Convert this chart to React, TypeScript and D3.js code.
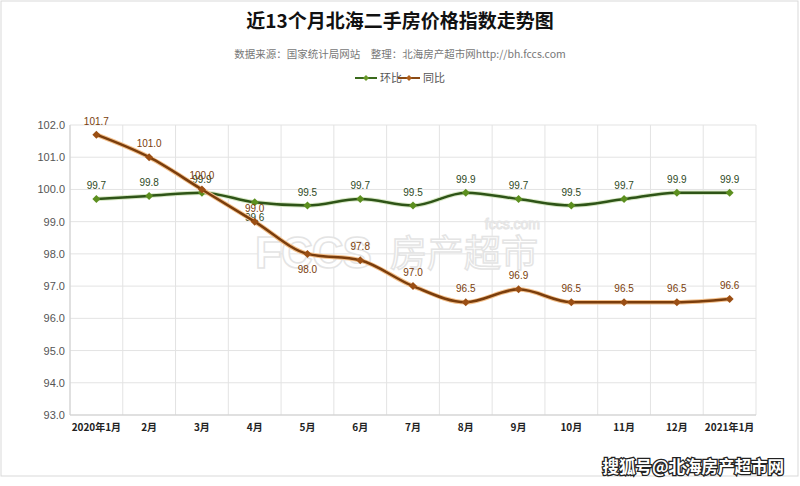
import React from 'react';
import * as d3 from 'd3';

const months = ['2020年1月', '2月', '3月', '4月', '5月', '6月', '7月', '8月', '9月', '10月', '11月', '12月', '2021年1月'];
const huanbi = [99.7, 99.8, 99.9, 99.6, 99.5, 99.7, 99.5, 99.9, 99.7, 99.5, 99.7, 99.9, 99.9];
const tongbi = [101.7, 101.0, 100.0, 99.0, 98.0, 97.8, 97.0, 96.5, 96.9, 96.5, 96.5, 96.5, 96.6];
const yTicks = [93, 94, 95, 96, 97, 98, 99, 100, 101, 102];
// label placement: true = below point
const huanbiBelow = [false, false, false, true, false, false, false, false, false, false, false, false, false];
const tongbiBelow = [false, false, false, false, true, false, false, false, false, false, false, false, false];

const W = 800, H = 486;
const L = 70, R = 756, T = 125, B = 415;
const FONT = '"Liberation Sans", Arial, "Noto Sans CJK SC", sans-serif';
const CJK = '"Noto Sans CJK SC", "Liberation Sans", sans-serif';

export default function App() {
  const x = d3.scaleBand<string>().domain(months).range([L, R]).paddingInner(0).paddingOuter(0);
  const y = d3.scaleLinear().domain([93, 102]).range([B, T]);
  const cx = (i: number) => (x(months[i]) as number) + x.bandwidth() / 2;
  const line = d3.line<number>().x((_, i) => cx(i)).y((d) => y(d)).curve(d3.curveMonotoneX);

  const series = [
    { name: '环比', data: huanbi, below: huanbiBelow, color: '#2e5417', marker: '#5c8f1f', glow: '#d8e8c6', label: '#2e4a1e' },
    { name: '同比', data: tongbi, below: tongbiBelow, color: '#7a3d0c', marker: '#9b4f14', glow: '#f3c08c', label: '#7a3d0c' },
  ];
  const diamond = (px: number, py: number, r: number) => `M${px},${py - r}L${px + r},${py}L${px},${py + r}L${px - r},${py}Z`;

  return (
    <svg width={W} height={H} style={{ position: 'absolute', left: 0, top: 0, background: '#fff' }}>
      <rect x={1} y={1} width={797} height={475} fill="#fff" stroke="#d9d9d9" />
      <text x={400} y={28} textAnchor="middle" fontFamily={CJK} fontWeight="bold" fontSize={19} fill="#111">近13个月北海二手房价格指数走势图</text>
      <text x={400} y={58} textAnchor="middle" fontFamily={CJK} fontSize={10.5} fill="#777">数据来源：国家统计局网站　整理：北海房产超市网http://bh.fccs.com</text>
      {/* legend */}
      <g>
        <line x1={355} x2={377} y1={78} y2={78} stroke="#3a6a1c" strokeWidth={2} />
        <path d={diamond(366, 78, 3)} fill="#6a9a2a" />
        <text x={380} y={82} fontFamily={CJK} fontSize={11} fill="#555">环比</text>
        <line x1={398} x2={420} y1={78} y2={78} stroke="#8a4a14" strokeWidth={2} />
        <path d={diamond(409, 78, 3)} fill="#b0601c" />
        <text x={423} y={82} fontFamily={CJK} fontSize={11} fill="#555">同比</text>
      </g>
      {/* grid */}
      {yTicks.map((t) => (
        <g key={t}>
          <line x1={L} x2={R} y1={y(t)} y2={y(t)} stroke="#e3e3e3" />
          <text x={L - 5} y={y(t) + 4} textAnchor="end" fontFamily={FONT} fontSize={11} fill="#555">{t.toFixed(1)}</text>
        </g>
      ))}
      {months.map((m) => (
        <line key={m} x1={(x(m) as number)} x2={(x(m) as number)} y1={T} y2={B} stroke="#e3e3e3" />
      ))}
      <line x1={R} x2={R} y1={T} y2={B} stroke="#e3e3e3" />
      <line x1={L} x2={R} y1={B} y2={B} stroke="#cfcfcf" />
      <line x1={L} x2={L} y1={T} y2={B} stroke="#cfcfcf" />
      {months.map((m, i) => (
        <text key={m} x={cx(i)} y={431} textAnchor="middle" fontFamily={CJK} fontWeight="bold" fontSize={10} fill="#222">{m}</text>
      ))}
      {/* watermark */}
      <g>
        <text x={540} y={229} textAnchor="end" fontFamily={FONT} fontSize={14} fill="#fff" stroke="#e4e4e4" strokeWidth={1}>fccs.com</text>
        <text x={255} y={268} fontFamily={FONT} fontWeight="bold" fontSize={44} letterSpacing={-1} fill="#fff" stroke="#e4e4e4" strokeWidth={1.5}>FCCS</text>
        <text x={390} y={267} fontFamily={CJK} fontSize={37} fill="#fff" stroke="#e4e4e4" strokeWidth={1.5}>房产超市</text>
      </g>
      {series.map((s) => (
        <g key={s.name}>
          <path d={line(s.data) as string} fill="none" stroke={s.glow} strokeWidth={4.5} />
          <path d={line(s.data) as string} fill="none" stroke={s.color} strokeWidth={2.5} />
          {s.data.map((v, i) => (
            <path key={i} d={diamond(cx(i), y(v), 4)} fill={s.marker} />
          ))}
          {s.data.map((v, i) => (
            <text key={'t' + i} x={cx(i)} y={s.below[i] ? y(v) + 19 : y(v) - 10} textAnchor="middle" fontFamily={FONT} fontSize={10} fill={s.label}>{v.toFixed(1)}</text>
          ))}
        </g>
      ))}
      <text x={784} y={473} textAnchor="end" fontFamily={CJK} fontWeight="bold" fontSize={16.5} fill="#fff" stroke="#222" strokeWidth={2.5} paintOrder="stroke">搜狐号@北海房产超市网</text>
    </svg>
  );
}
